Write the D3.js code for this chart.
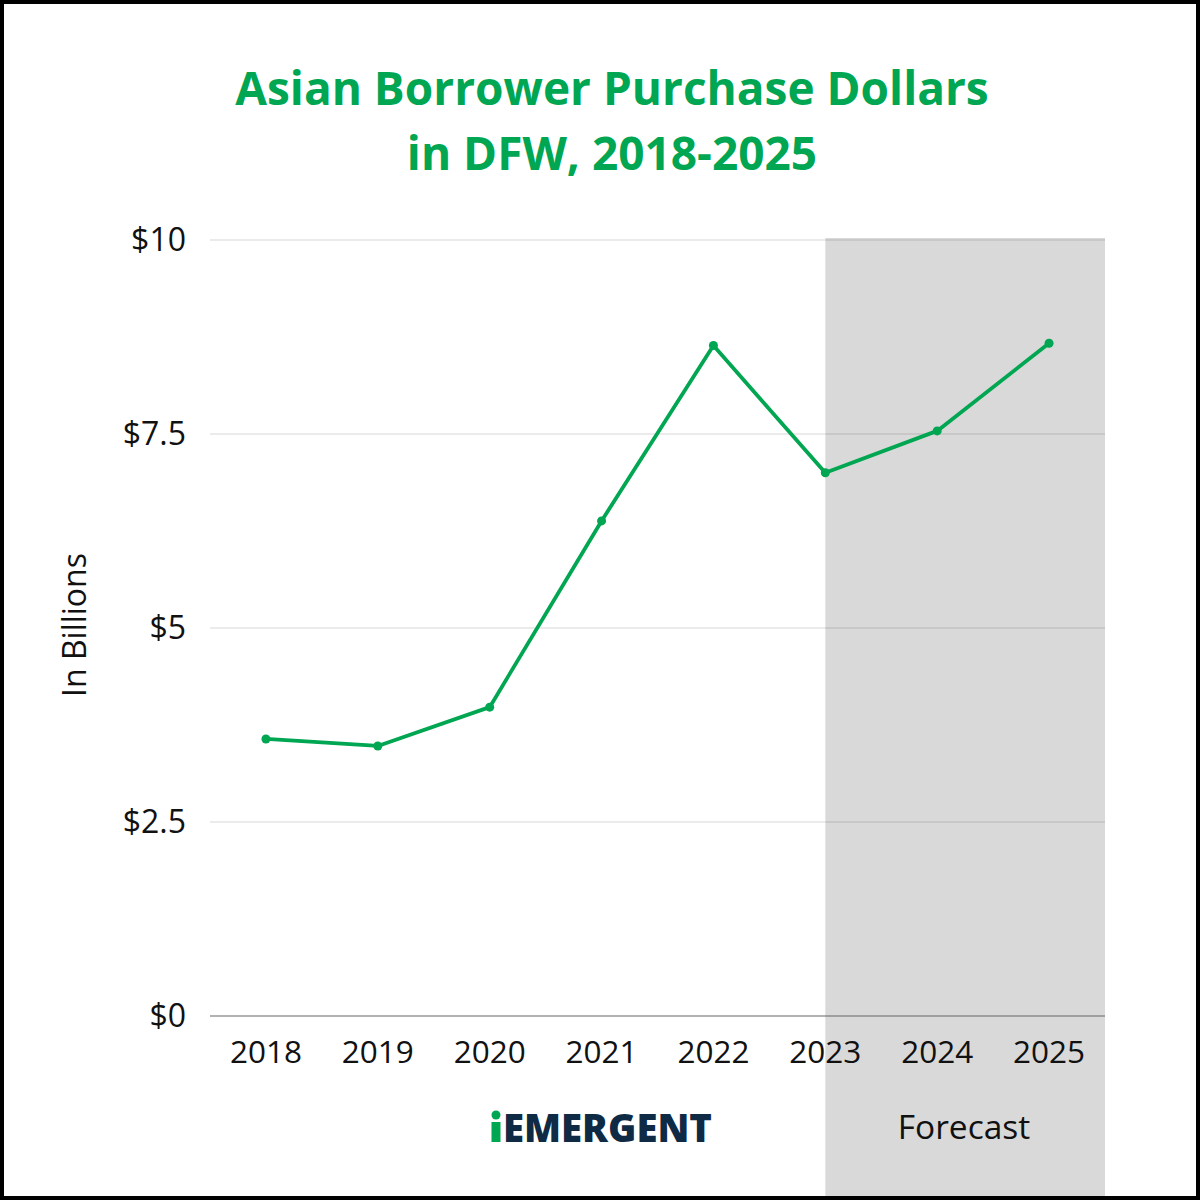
<!DOCTYPE html>
<html>
<head>
<meta charset="utf-8">
<script src="https://cdn.jsdelivr.net/npm/d3@7"></script>
<style>
  body { margin: 0; background: #fff; }
  text { font-family: "Open Sans", "Noto Sans", sans-serif; }
</style>
</head>
<body>
<div id="chart"></div>
<script>
const years = ["2018", "2019", "2020", "2021", "2022", "2023", "2024", "2025"];
const purchaseDollars = [3.57, 3.48, 3.98, 6.38, 8.64, 7.0, 7.54, 8.67];
const yTicks = [0, 2.5, 5, 7.5, 10];
const yTickLabels = ["$0", "$2.5", "$5", "$7.5", "$10"];
const forecastStart = "2023";

const width = 1200, height = 1200;
const margin = { top: 240, right: 95, bottom: 184, left: 210 };
const green = "#00a651";

const svg = d3.select("#chart").append("svg")
    .attr("width", width)
    .attr("height", height);

svg.append("rect")
    .attr("width", width).attr("height", height)
    .attr("fill", "#fff");

const x = d3.scalePoint()
    .domain(years)
    .range([margin.left, width - margin.right])
    .padding(0.5);

const y = d3.scaleLinear()
    .domain([0, 10])
    .range([height - margin.bottom, margin.top]);

// forecast shading
svg.append("rect")
    .attr("x", x(forecastStart))
    .attr("y", y(10) - 2)
    .attr("width", width - margin.right - x(forecastStart))
    .attr("height", height - y(10) + 2)
    .attr("fill", "#d9d9d9");

// gridlines
svg.append("g")
    .selectAll("line")
    .data(yTicks.filter(d => d > 0))
    .enter()
    .append("line")
    .attr("x1", margin.left)
    .attr("x2", width - margin.right)
    .attr("y1", d => y(d))
    .attr("y2", d => y(d))
    .attr("stroke", "rgba(0,0,0,0.16)")
    .attr("stroke-width", 1);

// zero line
svg.append("line")
    .attr("x1", margin.left)
    .attr("x2", width - margin.right)
    .attr("y1", y(0))
    .attr("y2", y(0))
    .attr("stroke", "#666")
    .attr("stroke-width", 1.2);

// y tick labels
svg.append("g")
    .selectAll("text")
    .data(yTicks)
    .enter()
    .append("text")
    .attr("x", 186)
    .attr("y", d => y(d))
    .attr("dy", "0.35em")
    .attr("text-anchor", "end")
    .attr("font-size", 32)
    .attr("fill", "#111")
    .text((d, i) => yTickLabels[i]);

// x tick labels
svg.append("g")
    .selectAll("text")
    .data(years)
    .enter()
    .append("text")
    .attr("x", d => x(d))
    .attr("y", 1063)
    .attr("text-anchor", "middle")
    .attr("font-size", 31.5)
    .attr("fill", "#111")
    .text(d => d);

// y axis title
svg.append("text")
    .attr("transform", "translate(86,625) rotate(-90)")
    .attr("text-anchor", "middle")
    .attr("font-size", 32)
    .attr("fill", "#111")
    .text("In Billions");

// line + points
const line = d3.line()
    .x((d, i) => x(years[i]))
    .y(d => y(d));

svg.append("path")
    .datum(purchaseDollars)
    .attr("d", line)
    .attr("fill", "none")
    .attr("stroke", green)
    .attr("stroke-width", 3.8)
    .attr("stroke-linejoin", "round");

svg.append("g")
    .selectAll("circle")
    .data(purchaseDollars)
    .enter()
    .append("circle")
    .attr("cx", (d, i) => x(years[i]))
    .attr("cy", d => y(d))
    .attr("r", 4.5)
    .attr("fill", green);

// title
const title = svg.append("text")
    .attr("text-anchor", "middle")
    .attr("font-size", 46)
    .attr("font-weight", 700)
    .attr("fill", green);
title.append("tspan").attr("x", 612).attr("y", 105).text("Asian Borrower Purchase Dollars");
title.append("tspan").attr("x", 612).attr("y", 170).text("in DFW, 2018-2025");

// forecast label
svg.append("text")
    .attr("x", 964)
    .attr("y", 1139)
    .attr("text-anchor", "middle")
    .attr("font-size", 33.5)
    .attr("fill", "#111")
    .attr("font-family", "Noto Sans, sans-serif")
    .text("Forecast");

// logo
const logo = svg.append("g");
logo.append("circle").attr("cx", 496).attr("cy", 1115).attr("r", 4.5).attr("fill", green);
logo.append("rect").attr("x", 491.5).attr("y", 1122).attr("width", 9).attr("height", 20).attr("fill", green);
logo.append("text")
    .attr("x", 503)
    .attr("y", 1142)
    .attr("font-family", "Lato, sans-serif")
    .attr("font-weight", 900)
    .attr("font-size", 39)
    .attr("textLength", 209)
    .attr("lengthAdjust", "spacingAndGlyphs")
    .attr("fill", "#0f2a44")
    .text("EMERGENT");

// frame
svg.append("rect")
    .attr("x", 2).attr("y", 2)
    .attr("width", width - 4).attr("height", height - 4)
    .attr("fill", "none")
    .attr("stroke", "#000")
    .attr("stroke-width", 4);
</script>
</body>
</html>
